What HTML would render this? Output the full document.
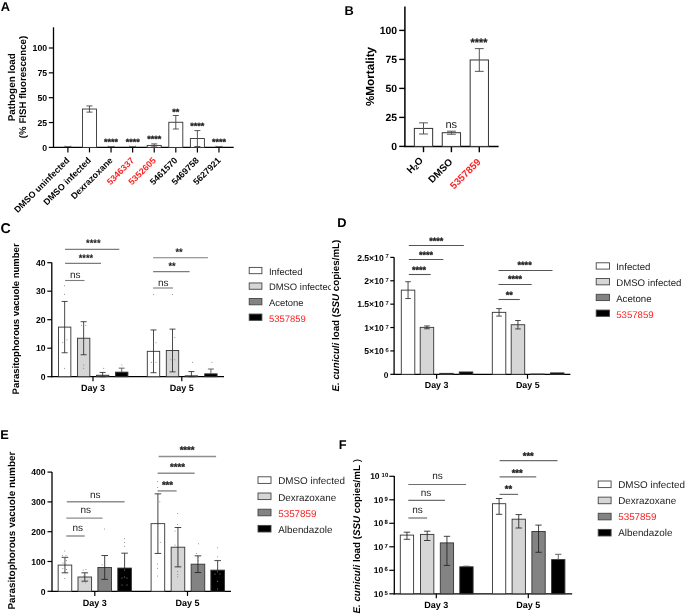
<!DOCTYPE html>
<html><head><meta charset="utf-8"><style>
html,body{margin:0;padding:0;background:#fff;overflow:hidden;}
svg{display:block;font-family:"Liberation Sans", sans-serif;text-rendering:geometricPrecision;will-change:transform;}
</style></head><body>
<svg width="685" height="615" viewBox="0 0 685 615">
<rect width="685" height="615" fill="#fff"/>
<text x="0.80" y="10.80" text-anchor="start" fill="#000" style="font-size:12.8px;font-weight:bold;">A</text>
<line x1="53.50" y1="27.30" x2="53.50" y2="148.00" stroke="#000" stroke-width="1.3" />
<line x1="52.90" y1="147.40" x2="233.70" y2="147.40" stroke="#000" stroke-width="1.3" />
<line x1="48.80" y1="147.40" x2="53.50" y2="147.40" stroke="#000" stroke-width="1.2" />
<text x="47.10" y="150.70" text-anchor="end" fill="#000" style="font-size:8.7px;font-weight:bold;">0</text>
<line x1="48.80" y1="122.55" x2="53.50" y2="122.55" stroke="#000" stroke-width="1.2" />
<text x="47.10" y="125.85" text-anchor="end" fill="#000" style="font-size:8.7px;font-weight:bold;">25</text>
<line x1="48.80" y1="97.70" x2="53.50" y2="97.70" stroke="#000" stroke-width="1.2" />
<text x="47.10" y="101.00" text-anchor="end" fill="#000" style="font-size:8.7px;font-weight:bold;">50</text>
<line x1="48.80" y1="72.85" x2="53.50" y2="72.85" stroke="#000" stroke-width="1.2" />
<text x="47.10" y="76.15" text-anchor="end" fill="#000" style="font-size:8.7px;font-weight:bold;">75</text>
<line x1="48.80" y1="48.00" x2="53.50" y2="48.00" stroke="#000" stroke-width="1.2" />
<text x="47.10" y="51.30" text-anchor="end" fill="#000" style="font-size:8.7px;font-weight:bold;">100</text>
<line x1="67.90" y1="147.40" x2="67.90" y2="152.40" stroke="#000" stroke-width="1.2" />
<line x1="89.48" y1="147.40" x2="89.48" y2="152.40" stroke="#000" stroke-width="1.2" />
<line x1="111.06" y1="147.40" x2="111.06" y2="152.40" stroke="#000" stroke-width="1.2" />
<line x1="132.64" y1="147.40" x2="132.64" y2="152.40" stroke="#000" stroke-width="1.2" />
<line x1="154.22" y1="147.40" x2="154.22" y2="152.40" stroke="#000" stroke-width="1.2" />
<line x1="175.80" y1="147.40" x2="175.80" y2="152.40" stroke="#000" stroke-width="1.2" />
<line x1="197.38" y1="147.40" x2="197.38" y2="152.40" stroke="#000" stroke-width="1.2" />
<line x1="218.96" y1="147.40" x2="218.96" y2="152.40" stroke="#000" stroke-width="1.2" />
<line x1="64.90" y1="146.50" x2="70.90" y2="146.50" stroke="#555" stroke-width="0.8" />
<line x1="64.90" y1="145.60" x2="64.90" y2="147.40" stroke="#555" stroke-width="0.7" />
<line x1="70.90" y1="145.60" x2="70.90" y2="147.40" stroke="#555" stroke-width="0.7" />
<rect x="82.48" y="109.03" width="14.00" height="38.37" fill="#fff" stroke="#333" stroke-width="0.9"/>
<line x1="89.48" y1="105.95" x2="89.48" y2="112.11" stroke="#444" stroke-width="0.9" />
<line x1="86.48" y1="105.95" x2="92.48" y2="105.95" stroke="#444" stroke-width="0.9" />
<line x1="86.48" y1="112.11" x2="92.48" y2="112.11" stroke="#444" stroke-width="0.9" />
<line x1="108.06" y1="146.50" x2="114.06" y2="146.50" stroke="#555" stroke-width="0.8" />
<line x1="108.06" y1="145.60" x2="108.06" y2="147.40" stroke="#555" stroke-width="0.7" />
<line x1="114.06" y1="145.60" x2="114.06" y2="147.40" stroke="#555" stroke-width="0.7" />
<line x1="129.64" y1="146.50" x2="135.64" y2="146.50" stroke="#555" stroke-width="0.8" />
<line x1="129.64" y1="145.60" x2="129.64" y2="147.40" stroke="#555" stroke-width="0.7" />
<line x1="135.64" y1="145.60" x2="135.64" y2="147.40" stroke="#555" stroke-width="0.7" />
<rect x="147.22" y="145.41" width="14.00" height="1.99" fill="#fff" stroke="#333" stroke-width="0.9"/>
<line x1="154.22" y1="143.92" x2="154.22" y2="146.90" stroke="#444" stroke-width="0.9" />
<line x1="151.22" y1="143.92" x2="157.22" y2="143.92" stroke="#444" stroke-width="0.9" />
<line x1="151.22" y1="146.90" x2="157.22" y2="146.90" stroke="#444" stroke-width="0.9" />
<rect x="168.80" y="122.25" width="14.00" height="25.15" fill="#fff" stroke="#333" stroke-width="0.9"/>
<line x1="175.80" y1="115.49" x2="175.80" y2="129.01" stroke="#444" stroke-width="0.9" />
<line x1="172.80" y1="115.49" x2="178.80" y2="115.49" stroke="#444" stroke-width="0.9" />
<line x1="172.80" y1="129.01" x2="178.80" y2="129.01" stroke="#444" stroke-width="0.9" />
<rect x="190.38" y="138.55" width="14.00" height="8.85" fill="#fff" stroke="#333" stroke-width="0.9"/>
<line x1="197.38" y1="130.60" x2="197.38" y2="146.51" stroke="#444" stroke-width="0.9" />
<line x1="194.38" y1="130.60" x2="200.38" y2="130.60" stroke="#444" stroke-width="0.9" />
<line x1="194.38" y1="146.51" x2="200.38" y2="146.51" stroke="#444" stroke-width="0.9" />
<line x1="215.96" y1="146.50" x2="221.96" y2="146.50" stroke="#555" stroke-width="0.8" />
<line x1="215.96" y1="145.60" x2="215.96" y2="147.40" stroke="#555" stroke-width="0.7" />
<line x1="221.96" y1="145.60" x2="221.96" y2="147.40" stroke="#555" stroke-width="0.7" />
<text x="111.06" y="145.40" text-anchor="middle" fill="#222" style="font-size:9.0px;font-weight:bold;stroke:#222;stroke-width:0.3px;">****</text>
<text x="132.64" y="145.40" text-anchor="middle" fill="#222" style="font-size:9.0px;font-weight:bold;stroke:#222;stroke-width:0.3px;">****</text>
<text x="154.22" y="142.30" text-anchor="middle" fill="#222" style="font-size:9.0px;font-weight:bold;stroke:#222;stroke-width:0.3px;">****</text>
<text x="175.80" y="115.00" text-anchor="middle" fill="#222" style="font-size:9.0px;font-weight:bold;stroke:#222;stroke-width:0.3px;">**</text>
<text x="197.38" y="129.20" text-anchor="middle" fill="#222" style="font-size:9.0px;font-weight:bold;stroke:#222;stroke-width:0.3px;">****</text>
<text x="218.96" y="145.40" text-anchor="middle" fill="#222" style="font-size:9.0px;font-weight:bold;stroke:#222;stroke-width:0.3px;">****</text>
<text x="70.10" y="161.00" text-anchor="end" fill="#000" style="font-size:8.9px;font-weight:bold;" transform="rotate(-45 70.10 161.00)">DMSO uninfected</text>
<text x="91.68" y="161.00" text-anchor="end" fill="#000" style="font-size:8.9px;font-weight:bold;" transform="rotate(-45 91.68 161.00)">DMSO infected</text>
<text x="113.26" y="161.00" text-anchor="end" fill="#000" style="font-size:8.9px;font-weight:bold;" transform="rotate(-45 113.26 161.00)">Dexrazoxane</text>
<text x="134.84" y="161.00" text-anchor="end" fill="#fb2222" style="font-size:8.9px;font-weight:bold;" transform="rotate(-45 134.84 161.00)">5346337</text>
<text x="156.42" y="161.00" text-anchor="end" fill="#fb2222" style="font-size:8.9px;font-weight:bold;" transform="rotate(-45 156.42 161.00)">5352605</text>
<text x="178.00" y="161.00" text-anchor="end" fill="#000" style="font-size:8.9px;font-weight:bold;" transform="rotate(-45 178.00 161.00)">5461570</text>
<text x="199.58" y="161.00" text-anchor="end" fill="#000" style="font-size:8.9px;font-weight:bold;" transform="rotate(-45 199.58 161.00)">5469758</text>
<text x="221.16" y="161.00" text-anchor="end" fill="#000" style="font-size:8.9px;font-weight:bold;" transform="rotate(-45 221.16 161.00)">5627921</text>
<text x="14.60" y="87.30" text-anchor="middle" fill="#000" style="font-size:9.9px;font-weight:bold;" transform="rotate(-90 14.60 87.30)">Pathogen load</text>
<text x="26.30" y="87.00" text-anchor="middle" fill="#000" style="font-size:9.7px;font-weight:bold;" transform="rotate(-90 26.30 87.00)">(% FISH fluorescence)</text>
<text x="344.40" y="15.30" text-anchor="start" fill="#000" style="font-size:12.8px;font-weight:bold;">B</text>
<line x1="404.90" y1="6.40" x2="404.90" y2="147.00" stroke="#000" stroke-width="1.5" />
<line x1="404.20" y1="146.40" x2="498.60" y2="146.40" stroke="#000" stroke-width="1.5" />
<line x1="399.20" y1="146.40" x2="404.90" y2="146.40" stroke="#000" stroke-width="1.4" />
<text x="397.00" y="150.30" text-anchor="end" fill="#000" style="font-size:10.4px;font-weight:bold;">0</text>
<line x1="399.20" y1="117.40" x2="404.90" y2="117.40" stroke="#000" stroke-width="1.4" />
<text x="397.00" y="121.30" text-anchor="end" fill="#000" style="font-size:10.4px;font-weight:bold;">25</text>
<line x1="399.20" y1="88.40" x2="404.90" y2="88.40" stroke="#000" stroke-width="1.4" />
<text x="397.00" y="92.30" text-anchor="end" fill="#000" style="font-size:10.4px;font-weight:bold;">50</text>
<line x1="399.20" y1="59.40" x2="404.90" y2="59.40" stroke="#000" stroke-width="1.4" />
<text x="397.00" y="63.30" text-anchor="end" fill="#000" style="font-size:10.4px;font-weight:bold;">75</text>
<line x1="399.20" y1="30.40" x2="404.90" y2="30.40" stroke="#000" stroke-width="1.4" />
<text x="397.00" y="34.30" text-anchor="end" fill="#000" style="font-size:10.4px;font-weight:bold;">100</text>
<line x1="423.50" y1="146.40" x2="423.50" y2="152.20" stroke="#000" stroke-width="1.4" />
<line x1="451.40" y1="146.40" x2="451.40" y2="152.20" stroke="#000" stroke-width="1.4" />
<line x1="479.30" y1="146.40" x2="479.30" y2="152.20" stroke="#000" stroke-width="1.4" />
<rect x="414.35" y="128.42" width="18.30" height="17.98" fill="#fff" stroke="#333" stroke-width="1.0"/>
<line x1="423.50" y1="122.85" x2="423.50" y2="133.99" stroke="#555" stroke-width="1.0" />
<line x1="419.10" y1="122.85" x2="427.90" y2="122.85" stroke="#555" stroke-width="1.0" />
<line x1="419.10" y1="133.99" x2="427.90" y2="133.99" stroke="#555" stroke-width="1.0" />
<rect x="442.25" y="132.71" width="18.30" height="13.69" fill="#fff" stroke="#333" stroke-width="1.0"/>
<line x1="451.40" y1="131.20" x2="451.40" y2="134.22" stroke="#555" stroke-width="1.0" />
<line x1="447.00" y1="131.20" x2="455.80" y2="131.20" stroke="#555" stroke-width="1.0" />
<line x1="447.00" y1="134.22" x2="455.80" y2="134.22" stroke="#555" stroke-width="1.0" />
<rect x="470.15" y="59.98" width="18.30" height="86.42" fill="#fff" stroke="#333" stroke-width="1.0"/>
<line x1="479.30" y1="48.61" x2="479.30" y2="71.35" stroke="#555" stroke-width="1.0" />
<line x1="474.90" y1="48.61" x2="483.70" y2="48.61" stroke="#555" stroke-width="1.0" />
<line x1="474.90" y1="71.35" x2="483.70" y2="71.35" stroke="#555" stroke-width="1.0" />
<text x="451.30" y="127.50" text-anchor="middle" fill="#222" style="font-size:11.0px;font-weight:normal;">ns</text>
<text x="479.00" y="46.20" text-anchor="middle" fill="#222" style="font-size:10.8px;font-weight:bold;stroke:#222;stroke-width:0.3px;">****</text>
<text x="373.80" y="76.50" text-anchor="middle" fill="#000" style="font-size:11.7px;font-weight:bold;" transform="rotate(-90 373.80 76.50)">%Mortality</text>
<text transform="rotate(-45 423.80 161.0)" x="423.80" y="161.0" text-anchor="end" style="font-size:9.9px;font-weight:bold;">H<tspan style="font-size:6.5px" dy="1.5">2</tspan><tspan dy="-1.5">O</tspan></text>
<text x="453.30" y="162.50" text-anchor="end" fill="#000" style="font-size:9.9px;font-weight:bold;" transform="rotate(-45 453.30 162.50)">DMSO</text>
<text x="481.30" y="162.50" text-anchor="end" fill="#fb2222" style="font-size:9.9px;font-weight:bold;" transform="rotate(-45 481.30 162.50)">5357859</text>
<text x="0.40" y="232.60" text-anchor="start" fill="#000" style="font-size:14.2px;font-weight:bold;">C</text>
<line x1="51.80" y1="262.40" x2="51.80" y2="377.30" stroke="#000" stroke-width="1.3" />
<line x1="51.20" y1="376.70" x2="224.00" y2="376.70" stroke="#000" stroke-width="1.3" />
<line x1="47.30" y1="376.70" x2="51.80" y2="376.70" stroke="#000" stroke-width="1.2" />
<text x="45.50" y="379.90" text-anchor="end" fill="#000" style="font-size:8.6px;font-weight:bold;">0</text>
<line x1="47.30" y1="348.20" x2="51.80" y2="348.20" stroke="#000" stroke-width="1.2" />
<text x="45.50" y="351.40" text-anchor="end" fill="#000" style="font-size:8.6px;font-weight:bold;">10</text>
<line x1="47.30" y1="319.70" x2="51.80" y2="319.70" stroke="#000" stroke-width="1.2" />
<text x="45.50" y="322.90" text-anchor="end" fill="#000" style="font-size:8.6px;font-weight:bold;">20</text>
<line x1="47.30" y1="291.20" x2="51.80" y2="291.20" stroke="#000" stroke-width="1.2" />
<text x="45.50" y="294.40" text-anchor="end" fill="#000" style="font-size:8.6px;font-weight:bold;">30</text>
<line x1="47.30" y1="262.70" x2="51.80" y2="262.70" stroke="#000" stroke-width="1.2" />
<text x="45.50" y="265.90" text-anchor="end" fill="#000" style="font-size:8.6px;font-weight:bold;">40</text>
<line x1="93.00" y1="376.70" x2="93.00" y2="381.20" stroke="#000" stroke-width="1.2" />
<line x1="181.80" y1="376.70" x2="181.80" y2="381.20" stroke="#000" stroke-width="1.2" />
<text x="93.00" y="390.50" text-anchor="middle" fill="#000" style="font-size:9.0px;font-weight:bold;">Day 3</text>
<text x="181.80" y="390.50" text-anchor="middle" fill="#000" style="font-size:9.0px;font-weight:bold;">Day 5</text>
<rect x="58.45" y="327.11" width="12.40" height="49.59" fill="#fff" stroke="#333" stroke-width="0.9"/>
<line x1="64.65" y1="301.46" x2="64.65" y2="352.76" stroke="#2a2a2a" stroke-width="0.85" />
<line x1="61.65" y1="301.46" x2="67.65" y2="301.46" stroke="#2a2a2a" stroke-width="0.85" />
<line x1="61.65" y1="352.76" x2="67.65" y2="352.76" stroke="#2a2a2a" stroke-width="0.85" />
<rect x="77.45" y="338.22" width="12.40" height="38.48" fill="#d6d6d6" stroke="#333" stroke-width="0.9"/>
<line x1="83.65" y1="321.69" x2="83.65" y2="354.75" stroke="#2a2a2a" stroke-width="0.85" />
<line x1="80.65" y1="321.69" x2="86.65" y2="321.69" stroke="#2a2a2a" stroke-width="0.85" />
<line x1="80.65" y1="354.75" x2="86.65" y2="354.75" stroke="#2a2a2a" stroke-width="0.85" />
<rect x="96.45" y="375.27" width="12.40" height="1.43" fill="#838383" stroke="#333" stroke-width="0.9"/>
<line x1="102.65" y1="372.43" x2="102.65" y2="376.70" stroke="#2a2a2a" stroke-width="0.85" />
<line x1="99.65" y1="372.43" x2="105.65" y2="372.43" stroke="#2a2a2a" stroke-width="0.85" />
<line x1="99.65" y1="376.70" x2="105.65" y2="376.70" stroke="#2a2a2a" stroke-width="0.85" />
<rect x="115.50" y="372.14" width="12.40" height="4.56" fill="#000" stroke="#333" stroke-width="0.9"/>
<line x1="121.70" y1="368.15" x2="121.70" y2="372.14" stroke="#555" stroke-width="0.9" />
<line x1="118.70" y1="368.15" x2="124.70" y2="368.15" stroke="#555" stroke-width="0.9" />
<rect x="147.30" y="351.33" width="12.40" height="25.37" fill="#fff" stroke="#333" stroke-width="0.9"/>
<line x1="153.50" y1="329.96" x2="153.50" y2="372.71" stroke="#2a2a2a" stroke-width="0.85" />
<line x1="150.50" y1="329.96" x2="156.50" y2="329.96" stroke="#2a2a2a" stroke-width="0.85" />
<line x1="150.50" y1="372.71" x2="156.50" y2="372.71" stroke="#2a2a2a" stroke-width="0.85" />
<rect x="166.30" y="350.48" width="12.40" height="26.22" fill="#d6d6d6" stroke="#333" stroke-width="0.9"/>
<line x1="172.50" y1="329.11" x2="172.50" y2="371.86" stroke="#2a2a2a" stroke-width="0.85" />
<line x1="169.50" y1="329.11" x2="175.50" y2="329.11" stroke="#2a2a2a" stroke-width="0.85" />
<line x1="169.50" y1="371.86" x2="175.50" y2="371.86" stroke="#2a2a2a" stroke-width="0.85" />
<rect x="185.20" y="375.84" width="12.40" height="0.86" fill="#838383" stroke="#333" stroke-width="0.9"/>
<line x1="191.40" y1="371.57" x2="191.40" y2="376.70" stroke="#2a2a2a" stroke-width="0.85" />
<line x1="188.40" y1="371.57" x2="194.40" y2="371.57" stroke="#2a2a2a" stroke-width="0.85" />
<line x1="188.40" y1="376.70" x2="194.40" y2="376.70" stroke="#2a2a2a" stroke-width="0.85" />
<rect x="204.70" y="373.85" width="12.40" height="2.85" fill="#000" stroke="#333" stroke-width="0.9"/>
<line x1="210.90" y1="369.00" x2="210.90" y2="373.85" stroke="#555" stroke-width="0.9" />
<line x1="207.90" y1="369.00" x2="213.90" y2="369.00" stroke="#555" stroke-width="0.9" />
<line x1="65.10" y1="280.50" x2="84.50" y2="280.50" stroke="#7c7c7c" stroke-width="1.1" />
<text x="75.20" y="277.90" text-anchor="middle" fill="#222" style="font-size:10.0px;font-weight:normal;">ns</text>
<line x1="65.10" y1="263.40" x2="101.00" y2="263.40" stroke="#7c7c7c" stroke-width="1.1" />
<text x="86.00" y="260.50" text-anchor="middle" fill="#222" style="font-size:9.3px;font-weight:bold;stroke:#222;stroke-width:0.1px;">****</text>
<line x1="65.10" y1="249.40" x2="119.30" y2="249.40" stroke="#7c7c7c" stroke-width="1.1" />
<text x="93.30" y="245.50" text-anchor="middle" fill="#222" style="font-size:9.3px;font-weight:bold;stroke:#222;stroke-width:0.1px;">****</text>
<line x1="153.10" y1="288.00" x2="173.00" y2="288.00" stroke="#7c7c7c" stroke-width="1.1" />
<text x="163.30" y="285.50" text-anchor="middle" fill="#222" style="font-size:10.0px;font-weight:normal;">ns</text>
<line x1="153.10" y1="271.60" x2="189.60" y2="271.60" stroke="#7c7c7c" stroke-width="1.1" />
<text x="172.10" y="268.90" text-anchor="middle" fill="#222" style="font-size:9.3px;font-weight:bold;stroke:#222;stroke-width:0.1px;">**</text>
<line x1="153.10" y1="257.70" x2="207.90" y2="257.70" stroke="#7c7c7c" stroke-width="1.1" />
<text x="179.10" y="254.60" text-anchor="middle" fill="#222" style="font-size:9.3px;font-weight:bold;stroke:#222;stroke-width:0.1px;">**</text>
<text x="19.20" y="318.90" text-anchor="middle" fill="#000" style="font-size:9.5px;font-weight:bold;" transform="rotate(-90 19.20 318.90)">Parasitophorous vacuole number</text>
<rect x="249.20" y="267.40" width="12.70" height="6.30" fill="#fff" stroke="#444" stroke-width="0.9"/>
<text x="268.90" y="274.90" text-anchor="start" fill="#222" style="font-size:9.45px;font-weight:normal;">Infected</text>
<rect x="249.20" y="282.95" width="12.70" height="6.30" fill="#d6d6d6" stroke="#444" stroke-width="0.9"/>
<text x="268.90" y="290.45" text-anchor="start" fill="#222" style="font-size:9.45px;font-weight:normal;">DMSO infected</text>
<rect x="249.20" y="298.50" width="12.70" height="6.30" fill="#838383" stroke="#444" stroke-width="0.9"/>
<text x="268.90" y="306.00" text-anchor="start" fill="#222" style="font-size:9.45px;font-weight:normal;">Acetone</text>
<rect x="249.20" y="314.05" width="12.70" height="6.30" fill="#000" stroke="#444" stroke-width="0.9"/>
<text x="268.90" y="321.55" text-anchor="start" fill="#fb2222" style="font-size:9.45px;font-weight:normal;">5357859</text>
<rect x="331" y="205" width="360" height="195" fill="#fff"/>
<text x="337.30" y="226.60" text-anchor="start" fill="#000" style="font-size:12.8px;font-weight:bold;">D</text>
<line x1="394.10" y1="257.30" x2="394.10" y2="374.90" stroke="#000" stroke-width="1.3" />
<line x1="393.50" y1="374.30" x2="570.40" y2="374.30" stroke="#000" stroke-width="1.3" />
<line x1="390.30" y1="374.30" x2="394.10" y2="374.30" stroke="#000" stroke-width="1.2" />
<text x="388.30" y="377.50" text-anchor="end" fill="#000" style="font-size:8.4px;font-weight:bold;">0</text>
<line x1="390.30" y1="350.92" x2="394.10" y2="350.92" stroke="#000" stroke-width="1.2" />
<text x="383.70" y="354.12" text-anchor="end" fill="#000" style="font-size:8.6px;font-weight:bold;">5×10</text>
<text x="385.60" y="351.92" text-anchor="start" fill="#000" style="font-size:5.7px;font-weight:normal;stroke:#000;stroke-width:0.15px;">6</text>
<line x1="390.30" y1="327.54" x2="394.10" y2="327.54" stroke="#000" stroke-width="1.2" />
<text x="383.70" y="330.74" text-anchor="end" fill="#000" style="font-size:8.6px;font-weight:bold;">1×10</text>
<text x="385.60" y="328.54" text-anchor="start" fill="#000" style="font-size:5.7px;font-weight:normal;stroke:#000;stroke-width:0.15px;">7</text>
<line x1="390.30" y1="304.16" x2="394.10" y2="304.16" stroke="#000" stroke-width="1.2" />
<text x="383.70" y="307.36" text-anchor="end" fill="#000" style="font-size:8.6px;font-weight:bold;">1.5×10</text>
<text x="385.60" y="305.16" text-anchor="start" fill="#000" style="font-size:5.7px;font-weight:normal;stroke:#000;stroke-width:0.15px;">7</text>
<line x1="390.30" y1="280.78" x2="394.10" y2="280.78" stroke="#000" stroke-width="1.2" />
<text x="383.70" y="283.98" text-anchor="end" fill="#000" style="font-size:8.6px;font-weight:bold;">2×10</text>
<text x="385.60" y="281.78" text-anchor="start" fill="#000" style="font-size:5.7px;font-weight:normal;stroke:#000;stroke-width:0.15px;">7</text>
<line x1="390.30" y1="257.40" x2="394.10" y2="257.40" stroke="#000" stroke-width="1.2" />
<text x="383.70" y="260.60" text-anchor="end" fill="#000" style="font-size:8.6px;font-weight:bold;">2.5×10</text>
<text x="385.60" y="258.40" text-anchor="start" fill="#000" style="font-size:5.7px;font-weight:normal;stroke:#000;stroke-width:0.15px;">7</text>
<line x1="436.60" y1="374.30" x2="436.60" y2="378.80" stroke="#000" stroke-width="1.2" />
<line x1="527.50" y1="374.30" x2="527.50" y2="378.80" stroke="#000" stroke-width="1.2" />
<text x="436.60" y="387.60" text-anchor="middle" fill="#000" style="font-size:8.9px;font-weight:bold;">Day 3</text>
<text x="527.80" y="387.60" text-anchor="middle" fill="#000" style="font-size:8.9px;font-weight:bold;">Day 5</text>
<rect x="401.30" y="290.13" width="13.50" height="84.17" fill="#fff" stroke="#333" stroke-width="0.9"/>
<line x1="408.05" y1="281.72" x2="408.05" y2="298.55" stroke="#2a2a2a" stroke-width="0.85" />
<line x1="405.25" y1="281.72" x2="410.85" y2="281.72" stroke="#2a2a2a" stroke-width="0.85" />
<line x1="405.25" y1="298.55" x2="410.85" y2="298.55" stroke="#2a2a2a" stroke-width="0.85" />
<rect x="420.20" y="327.35" width="13.50" height="46.95" fill="#d6d6d6" stroke="#333" stroke-width="0.9"/>
<line x1="426.95" y1="325.95" x2="426.95" y2="328.76" stroke="#2a2a2a" stroke-width="0.85" />
<line x1="424.15" y1="325.95" x2="429.75" y2="325.95" stroke="#2a2a2a" stroke-width="0.85" />
<line x1="424.15" y1="328.76" x2="429.75" y2="328.76" stroke="#2a2a2a" stroke-width="0.85" />
<rect x="439.75" y="373.36" width="13.50" height="0.94" fill="#838383" stroke="#333" stroke-width="0.9"/>
<rect x="459.30" y="371.96" width="13.50" height="2.34" fill="#000" stroke="#333" stroke-width="0.9"/>
<rect x="492.30" y="312.34" width="13.50" height="61.96" fill="#fff" stroke="#333" stroke-width="0.9"/>
<line x1="499.05" y1="308.60" x2="499.05" y2="316.08" stroke="#2a2a2a" stroke-width="0.85" />
<line x1="496.25" y1="308.60" x2="501.85" y2="308.60" stroke="#2a2a2a" stroke-width="0.85" />
<line x1="496.25" y1="316.08" x2="501.85" y2="316.08" stroke="#2a2a2a" stroke-width="0.85" />
<rect x="511.20" y="324.73" width="13.50" height="49.57" fill="#d6d6d6" stroke="#333" stroke-width="0.9"/>
<line x1="517.95" y1="320.53" x2="517.95" y2="328.94" stroke="#2a2a2a" stroke-width="0.85" />
<line x1="515.15" y1="320.53" x2="520.75" y2="320.53" stroke="#2a2a2a" stroke-width="0.85" />
<line x1="515.15" y1="328.94" x2="520.75" y2="328.94" stroke="#2a2a2a" stroke-width="0.85" />
<rect x="530.75" y="374.07" width="13.50" height="0.23" fill="#838383" stroke="#333" stroke-width="0.9"/>
<rect x="550.45" y="372.90" width="13.50" height="1.40" fill="#000" stroke="#333" stroke-width="0.9"/>
<line x1="408.80" y1="274.50" x2="430.70" y2="274.50" stroke="#555" stroke-width="1.1" />
<text x="419.00" y="273.00" text-anchor="middle" fill="#222" style="font-size:9.1px;font-weight:bold;stroke:#222;stroke-width:0.3px;">****</text>
<line x1="408.80" y1="259.50" x2="443.30" y2="259.50" stroke="#555" stroke-width="1.1" />
<text x="426.00" y="258.10" text-anchor="middle" fill="#222" style="font-size:9.1px;font-weight:bold;stroke:#222;stroke-width:0.3px;">****</text>
<line x1="408.80" y1="245.50" x2="463.80" y2="245.50" stroke="#555" stroke-width="1.1" />
<text x="436.30" y="243.60" text-anchor="middle" fill="#222" style="font-size:9.1px;font-weight:bold;stroke:#222;stroke-width:0.3px;">****</text>
<line x1="498.50" y1="299.50" x2="519.80" y2="299.50" stroke="#555" stroke-width="1.1" />
<text x="509.30" y="298.20" text-anchor="middle" fill="#222" style="font-size:9.1px;font-weight:bold;stroke:#222;stroke-width:0.3px;">**</text>
<line x1="498.50" y1="284.50" x2="531.70" y2="284.50" stroke="#555" stroke-width="1.1" />
<text x="515.00" y="282.10" text-anchor="middle" fill="#222" style="font-size:9.1px;font-weight:bold;stroke:#222;stroke-width:0.3px;">****</text>
<line x1="498.50" y1="270.50" x2="552.50" y2="270.50" stroke="#555" stroke-width="1.1" />
<text x="524.60" y="268.40" text-anchor="middle" fill="#222" style="font-size:9.1px;font-weight:bold;stroke:#222;stroke-width:0.3px;">****</text>
<text transform="rotate(-90 339.5 315.6)" x="339.5" y="315.6" text-anchor="middle" style="font-size:9.75px;font-weight:bold;"><tspan font-style="italic">E. cuniculi</tspan> load (<tspan font-style="italic">SSU</tspan> copies/mL)</text>
<rect x="596.20" y="262.80" width="13.30" height="6.30" fill="#fff" stroke="#444" stroke-width="0.9"/>
<text x="616.20" y="270.30" text-anchor="start" fill="#222" style="font-size:9.65px;font-weight:normal;">Infected</text>
<rect x="596.20" y="278.55" width="13.30" height="6.30" fill="#d6d6d6" stroke="#444" stroke-width="0.9"/>
<text x="616.20" y="286.05" text-anchor="start" fill="#222" style="font-size:9.65px;font-weight:normal;">DMSO infected</text>
<rect x="596.20" y="294.30" width="13.30" height="6.30" fill="#838383" stroke="#444" stroke-width="0.9"/>
<text x="616.20" y="301.80" text-anchor="start" fill="#222" style="font-size:9.65px;font-weight:normal;">Acetone</text>
<rect x="596.20" y="310.05" width="13.30" height="6.30" fill="#000" stroke="#444" stroke-width="0.9"/>
<text x="616.20" y="317.55" text-anchor="start" fill="#fb2222" style="font-size:9.65px;font-weight:normal;">5357859</text>
<text x="0.30" y="438.80" text-anchor="start" fill="#000" style="font-size:12.8px;font-weight:bold;">E</text>
<line x1="52.00" y1="472.00" x2="52.00" y2="591.90" stroke="#000" stroke-width="1.3" />
<line x1="51.40" y1="591.30" x2="231.00" y2="591.30" stroke="#000" stroke-width="1.3" />
<line x1="47.50" y1="591.30" x2="52.00" y2="591.30" stroke="#000" stroke-width="1.2" />
<text x="45.50" y="594.50" text-anchor="end" fill="#000" style="font-size:8.6px;font-weight:bold;">0</text>
<line x1="47.50" y1="561.50" x2="52.00" y2="561.50" stroke="#000" stroke-width="1.2" />
<text x="45.50" y="564.70" text-anchor="end" fill="#000" style="font-size:8.6px;font-weight:bold;">100</text>
<line x1="47.50" y1="531.70" x2="52.00" y2="531.70" stroke="#000" stroke-width="1.2" />
<text x="45.50" y="534.90" text-anchor="end" fill="#000" style="font-size:8.6px;font-weight:bold;">200</text>
<line x1="47.50" y1="501.90" x2="52.00" y2="501.90" stroke="#000" stroke-width="1.2" />
<text x="45.50" y="505.10" text-anchor="end" fill="#000" style="font-size:8.6px;font-weight:bold;">300</text>
<line x1="47.50" y1="472.10" x2="52.00" y2="472.10" stroke="#000" stroke-width="1.2" />
<text x="45.50" y="475.30" text-anchor="end" fill="#000" style="font-size:8.6px;font-weight:bold;">400</text>
<line x1="94.80" y1="591.30" x2="94.80" y2="595.90" stroke="#000" stroke-width="1.2" />
<line x1="187.50" y1="591.30" x2="187.50" y2="595.90" stroke="#000" stroke-width="1.2" />
<text x="94.80" y="605.90" text-anchor="middle" fill="#000" style="font-size:9.0px;font-weight:bold;">Day 3</text>
<text x="187.50" y="605.90" text-anchor="middle" fill="#000" style="font-size:9.0px;font-weight:bold;">Day 5</text>
<rect x="58.15" y="565.08" width="13.60" height="26.22" fill="#fff" stroke="#333" stroke-width="0.9"/>
<line x1="64.95" y1="557.33" x2="64.95" y2="572.82" stroke="#222" stroke-width="0.85" />
<line x1="61.65" y1="557.33" x2="68.25" y2="557.33" stroke="#222" stroke-width="0.85" />
<line x1="61.65" y1="572.82" x2="68.25" y2="572.82" stroke="#222" stroke-width="0.85" />
<rect x="78.00" y="577.00" width="13.60" height="14.30" fill="#d6d6d6" stroke="#333" stroke-width="0.9"/>
<line x1="84.80" y1="572.82" x2="84.80" y2="581.17" stroke="#222" stroke-width="0.85" />
<line x1="81.50" y1="572.82" x2="88.10" y2="572.82" stroke="#222" stroke-width="0.85" />
<line x1="81.50" y1="581.17" x2="88.10" y2="581.17" stroke="#222" stroke-width="0.85" />
<rect x="97.90" y="567.46" width="13.60" height="23.84" fill="#838383" stroke="#333" stroke-width="0.9"/>
<line x1="104.70" y1="555.54" x2="104.70" y2="579.38" stroke="#222" stroke-width="0.85" />
<line x1="101.40" y1="555.54" x2="108.00" y2="555.54" stroke="#222" stroke-width="0.85" />
<line x1="101.40" y1="579.38" x2="108.00" y2="579.38" stroke="#222" stroke-width="0.85" />
<rect x="117.80" y="568.06" width="13.60" height="23.24" fill="#000" stroke="#333" stroke-width="0.9"/>
<line x1="124.60" y1="553.16" x2="124.60" y2="568.06" stroke="#333" stroke-width="0.9" />
<line x1="121.30" y1="553.16" x2="127.90" y2="553.16" stroke="#333" stroke-width="0.9" />
<rect x="151.10" y="523.65" width="13.60" height="67.65" fill="#fff" stroke="#333" stroke-width="0.9"/>
<line x1="157.90" y1="493.85" x2="157.90" y2="553.45" stroke="#222" stroke-width="0.85" />
<line x1="154.60" y1="493.85" x2="161.20" y2="493.85" stroke="#222" stroke-width="0.85" />
<line x1="154.60" y1="553.45" x2="161.20" y2="553.45" stroke="#222" stroke-width="0.85" />
<rect x="171.15" y="547.20" width="13.60" height="44.10" fill="#d6d6d6" stroke="#333" stroke-width="0.9"/>
<line x1="177.95" y1="527.53" x2="177.95" y2="566.86" stroke="#222" stroke-width="0.85" />
<line x1="174.65" y1="527.53" x2="181.25" y2="527.53" stroke="#222" stroke-width="0.85" />
<line x1="174.65" y1="566.86" x2="181.25" y2="566.86" stroke="#222" stroke-width="0.85" />
<rect x="191.15" y="564.18" width="13.60" height="27.12" fill="#838383" stroke="#333" stroke-width="0.9"/>
<line x1="197.95" y1="555.84" x2="197.95" y2="572.53" stroke="#222" stroke-width="0.85" />
<line x1="194.65" y1="555.84" x2="201.25" y2="555.84" stroke="#222" stroke-width="0.85" />
<line x1="194.65" y1="572.53" x2="201.25" y2="572.53" stroke="#222" stroke-width="0.85" />
<rect x="210.85" y="570.14" width="13.60" height="21.16" fill="#000" stroke="#333" stroke-width="0.9"/>
<line x1="217.65" y1="560.61" x2="217.65" y2="570.14" stroke="#333" stroke-width="0.9" />
<line x1="214.35" y1="560.61" x2="220.95" y2="560.61" stroke="#333" stroke-width="0.9" />
<line x1="66.30" y1="536.00" x2="84.70" y2="536.00" stroke="#8e8e8e" stroke-width="1.45" />
<text x="77.80" y="530.80" text-anchor="middle" fill="#222" style="font-size:10.0px;font-weight:normal;">ns</text>
<line x1="66.30" y1="518.10" x2="102.60" y2="518.10" stroke="#8e8e8e" stroke-width="1.45" />
<text x="85.80" y="513.30" text-anchor="middle" fill="#222" style="font-size:10.0px;font-weight:normal;">ns</text>
<line x1="66.80" y1="501.80" x2="124.60" y2="501.80" stroke="#8e8e8e" stroke-width="1.45" />
<text x="95.20" y="497.50" text-anchor="middle" fill="#222" style="font-size:10.0px;font-weight:normal;">ns</text>
<line x1="157.60" y1="490.90" x2="176.60" y2="490.90" stroke="#8e8e8e" stroke-width="1.45" />
<text x="167.50" y="488.20" text-anchor="middle" fill="#222" style="font-size:9.6px;font-weight:bold;stroke:#222;stroke-width:0.35px;">***</text>
<line x1="157.60" y1="473.20" x2="194.60" y2="473.20" stroke="#8e8e8e" stroke-width="1.45" />
<text x="177.50" y="469.70" text-anchor="middle" fill="#222" style="font-size:9.6px;font-weight:bold;stroke:#222;stroke-width:0.35px;">****</text>
<line x1="158.60" y1="456.50" x2="216.10" y2="456.50" stroke="#8e8e8e" stroke-width="1.45" />
<text x="187.10" y="453.30" text-anchor="middle" fill="#222" style="font-size:9.6px;font-weight:bold;stroke:#222;stroke-width:0.35px;">****</text>
<text x="14.70" y="530.60" text-anchor="middle" fill="#000" style="font-size:9.95px;font-weight:bold;" transform="rotate(-90 14.70 530.60)">Parasitophorous vacuole number</text>
<rect x="258.00" y="476.80" width="13.00" height="6.60" fill="#fff" stroke="#444" stroke-width="0.9"/>
<text x="278.20" y="484.40" text-anchor="start" fill="#222" style="font-size:9.85px;font-weight:normal;">DMSO infected</text>
<rect x="258.00" y="493.00" width="13.00" height="6.60" fill="#d6d6d6" stroke="#444" stroke-width="0.9"/>
<text x="278.20" y="500.60" text-anchor="start" fill="#222" style="font-size:9.85px;font-weight:normal;">Dexrazoxane</text>
<rect x="258.00" y="509.20" width="13.00" height="6.60" fill="#838383" stroke="#444" stroke-width="0.9"/>
<text x="278.20" y="516.80" text-anchor="start" fill="#fb2222" style="font-size:9.85px;font-weight:normal;">5357859</text>
<rect x="258.00" y="525.40" width="13.00" height="6.60" fill="#000" stroke="#444" stroke-width="0.9"/>
<text x="278.20" y="533.00" text-anchor="start" fill="#222" style="font-size:9.85px;font-weight:normal;">Albendazole</text>
<text x="338.70" y="449.30" text-anchor="start" fill="#000" style="font-size:12.8px;font-weight:bold;">F</text>
<line x1="394.30" y1="476.00" x2="394.30" y2="594.40" stroke="#000" stroke-width="1.3" />
<line x1="393.70" y1="593.80" x2="572.20" y2="593.80" stroke="#000" stroke-width="1.3" />
<line x1="389.30" y1="593.80" x2="394.30" y2="593.80" stroke="#000" stroke-width="1.2" />
<text x="383.20" y="596.90" text-anchor="end" fill="#000" style="font-size:8.5px;font-weight:bold;">10</text>
<text x="384.60" y="594.60" text-anchor="start" fill="#000" style="font-size:6.0px;font-weight:bold;">5</text>
<line x1="389.30" y1="570.30" x2="394.30" y2="570.30" stroke="#000" stroke-width="1.2" />
<text x="383.20" y="573.40" text-anchor="end" fill="#000" style="font-size:8.5px;font-weight:bold;">10</text>
<text x="384.60" y="571.10" text-anchor="start" fill="#000" style="font-size:6.0px;font-weight:bold;">6</text>
<line x1="389.30" y1="546.80" x2="394.30" y2="546.80" stroke="#000" stroke-width="1.2" />
<text x="383.20" y="549.90" text-anchor="end" fill="#000" style="font-size:8.5px;font-weight:bold;">10</text>
<text x="384.60" y="547.60" text-anchor="start" fill="#000" style="font-size:6.0px;font-weight:bold;">7</text>
<line x1="389.30" y1="523.30" x2="394.30" y2="523.30" stroke="#000" stroke-width="1.2" />
<text x="383.20" y="526.40" text-anchor="end" fill="#000" style="font-size:8.5px;font-weight:bold;">10</text>
<text x="384.60" y="524.10" text-anchor="start" fill="#000" style="font-size:6.0px;font-weight:bold;">8</text>
<line x1="389.30" y1="499.80" x2="394.30" y2="499.80" stroke="#000" stroke-width="1.2" />
<text x="383.20" y="502.90" text-anchor="end" fill="#000" style="font-size:8.5px;font-weight:bold;">10</text>
<text x="384.60" y="500.60" text-anchor="start" fill="#000" style="font-size:6.0px;font-weight:bold;">9</text>
<line x1="389.30" y1="476.30" x2="394.30" y2="476.30" stroke="#000" stroke-width="1.2" />
<text x="379.60" y="479.40" text-anchor="end" fill="#000" style="font-size:8.5px;font-weight:bold;">10</text>
<text x="381.60" y="477.10" text-anchor="start" fill="#000" style="font-size:6.0px;font-weight:bold;">10</text>
<line x1="436.30" y1="593.80" x2="436.30" y2="598.30" stroke="#000" stroke-width="1.2" />
<line x1="528.30" y1="593.80" x2="528.30" y2="598.30" stroke="#000" stroke-width="1.2" />
<text x="436.30" y="608.30" text-anchor="middle" fill="#000" style="font-size:9.0px;font-weight:bold;">Day 3</text>
<text x="528.30" y="608.30" text-anchor="middle" fill="#000" style="font-size:9.0px;font-weight:bold;">Day 5</text>
<rect x="400.30" y="535.10" width="13.30" height="58.70" fill="#fff" stroke="#333" stroke-width="0.9"/>
<line x1="406.95" y1="532.20" x2="406.95" y2="539.30" stroke="#222" stroke-width="0.85" />
<line x1="403.75" y1="532.20" x2="410.15" y2="532.20" stroke="#222" stroke-width="0.85" />
<line x1="403.75" y1="539.30" x2="410.15" y2="539.30" stroke="#222" stroke-width="0.85" />
<rect x="420.55" y="534.40" width="13.30" height="59.40" fill="#d6d6d6" stroke="#333" stroke-width="0.9"/>
<line x1="427.20" y1="531.20" x2="427.20" y2="540.50" stroke="#222" stroke-width="0.85" />
<line x1="424.00" y1="531.20" x2="430.40" y2="531.20" stroke="#222" stroke-width="0.85" />
<line x1="424.00" y1="540.50" x2="430.40" y2="540.50" stroke="#222" stroke-width="0.85" />
<rect x="440.30" y="542.90" width="13.30" height="50.90" fill="#838383" stroke="#333" stroke-width="0.9"/>
<line x1="446.95" y1="536.30" x2="446.95" y2="565.40" stroke="#222" stroke-width="0.85" />
<line x1="443.75" y1="536.30" x2="450.15" y2="536.30" stroke="#222" stroke-width="0.85" />
<line x1="443.75" y1="565.40" x2="450.15" y2="565.40" stroke="#222" stroke-width="0.85" />
<rect x="459.80" y="566.80" width="13.30" height="27.00" fill="#000" stroke="#333" stroke-width="0.9"/>
<line x1="466.45" y1="566.20" x2="466.45" y2="566.80" stroke="#555" stroke-width="0.9" />
<line x1="463.25" y1="566.20" x2="469.65" y2="566.20" stroke="#555" stroke-width="0.9" />
<rect x="492.45" y="503.70" width="13.30" height="90.10" fill="#fff" stroke="#333" stroke-width="0.9"/>
<line x1="499.10" y1="498.50" x2="499.10" y2="514.30" stroke="#222" stroke-width="0.85" />
<line x1="495.90" y1="498.50" x2="502.30" y2="498.50" stroke="#222" stroke-width="0.85" />
<line x1="495.90" y1="514.30" x2="502.30" y2="514.30" stroke="#222" stroke-width="0.85" />
<rect x="512.10" y="519.20" width="13.30" height="74.60" fill="#d6d6d6" stroke="#333" stroke-width="0.9"/>
<line x1="518.75" y1="514.60" x2="518.75" y2="528.00" stroke="#222" stroke-width="0.85" />
<line x1="515.55" y1="514.60" x2="521.95" y2="514.60" stroke="#222" stroke-width="0.85" />
<line x1="515.55" y1="528.00" x2="521.95" y2="528.00" stroke="#222" stroke-width="0.85" />
<rect x="531.90" y="531.50" width="13.30" height="62.30" fill="#838383" stroke="#333" stroke-width="0.9"/>
<line x1="538.55" y1="525.10" x2="538.55" y2="552.30" stroke="#222" stroke-width="0.85" />
<line x1="535.35" y1="525.10" x2="541.75" y2="525.10" stroke="#222" stroke-width="0.85" />
<line x1="535.35" y1="552.30" x2="541.75" y2="552.30" stroke="#222" stroke-width="0.85" />
<rect x="551.60" y="559.60" width="13.30" height="34.20" fill="#000" stroke="#333" stroke-width="0.9"/>
<line x1="558.25" y1="554.30" x2="558.25" y2="559.60" stroke="#555" stroke-width="0.9" />
<line x1="555.05" y1="554.30" x2="561.45" y2="554.30" stroke="#555" stroke-width="0.9" />
<line x1="408.30" y1="518.00" x2="427.10" y2="518.00" stroke="#6e6e6e" stroke-width="1.2" />
<text x="417.60" y="513.30" text-anchor="middle" fill="#222" style="font-size:10.0px;font-weight:normal;">ns</text>
<line x1="408.30" y1="500.30" x2="444.90" y2="500.30" stroke="#6e6e6e" stroke-width="1.2" />
<text x="426.10" y="495.50" text-anchor="middle" fill="#222" style="font-size:10.0px;font-weight:normal;">ns</text>
<line x1="408.30" y1="484.50" x2="466.10" y2="484.50" stroke="#6e6e6e" stroke-width="1.2" />
<text x="437.60" y="479.20" text-anchor="middle" fill="#222" style="font-size:10.0px;font-weight:normal;">ns</text>
<line x1="499.60" y1="494.40" x2="518.00" y2="494.40" stroke="#6e6e6e" stroke-width="1.2" />
<text x="508.40" y="492.00" text-anchor="middle" fill="#222" style="font-size:9.4px;font-weight:bold;stroke:#222;stroke-width:0.35px;">**</text>
<line x1="499.60" y1="476.80" x2="536.20" y2="476.80" stroke="#6e6e6e" stroke-width="1.2" />
<text x="517.20" y="475.90" text-anchor="middle" fill="#222" style="font-size:9.4px;font-weight:bold;stroke:#222;stroke-width:0.35px;">***</text>
<line x1="499.60" y1="460.70" x2="557.50" y2="460.70" stroke="#6e6e6e" stroke-width="1.2" />
<text x="528.30" y="458.70" text-anchor="middle" fill="#222" style="font-size:9.4px;font-weight:bold;stroke:#222;stroke-width:0.35px;">***</text>
<text transform="rotate(-90 359.8 536.3)" x="359.8" y="536.3" text-anchor="middle" style="font-size:9.75px;font-weight:bold;"><tspan font-style="italic">E. cuniculi</tspan> load (<tspan font-style="italic">SSU</tspan> copies/mL<tspan font-weight="normal"> )</tspan></text>
<rect x="598.20" y="481.00" width="12.90" height="6.60" fill="#fff" stroke="#444" stroke-width="0.9"/>
<text x="618.20" y="488.00" text-anchor="start" fill="#222" style="font-size:9.85px;font-weight:normal;">DMSO infected</text>
<rect x="598.20" y="497.13" width="12.90" height="6.60" fill="#d6d6d6" stroke="#444" stroke-width="0.9"/>
<text x="618.20" y="504.13" text-anchor="start" fill="#222" style="font-size:9.85px;font-weight:normal;">Dexrazoxane</text>
<rect x="598.20" y="513.26" width="12.90" height="6.60" fill="#838383" stroke="#444" stroke-width="0.9"/>
<text x="618.20" y="520.26" text-anchor="start" fill="#fb2222" style="font-size:9.85px;font-weight:normal;">5357859</text>
<rect x="598.20" y="529.39" width="12.90" height="6.60" fill="#000" stroke="#444" stroke-width="0.9"/>
<text x="618.20" y="536.39" text-anchor="start" fill="#222" style="font-size:9.85px;font-weight:normal;">Albendazole</text>
<circle cx="64.50" cy="285.70" r="0.5" fill="#777"/>
<circle cx="64.50" cy="294.30" r="0.5" fill="#777"/>
<circle cx="62.60" cy="342.30" r="0.5" fill="#777"/>
<circle cx="67.00" cy="339.80" r="0.5" fill="#777"/>
<circle cx="64.50" cy="368.30" r="0.5" fill="#777"/>
<circle cx="81.60" cy="325.20" r="0.5" fill="#777"/>
<circle cx="85.80" cy="325.20" r="0.5" fill="#777"/>
<circle cx="83.70" cy="365.00" r="0.5" fill="#777"/>
<circle cx="83.70" cy="368.30" r="0.5" fill="#777"/>
<circle cx="103.70" cy="368.30" r="0.5" fill="#777"/>
<circle cx="121.90" cy="365.00" r="0.5" fill="#777"/>
<circle cx="153.60" cy="294.40" r="0.5" fill="#777"/>
<circle cx="156.00" cy="342.80" r="0.5" fill="#777"/>
<circle cx="151.50" cy="362.30" r="0.5" fill="#777"/>
<circle cx="156.00" cy="362.30" r="0.5" fill="#777"/>
<circle cx="172.40" cy="294.40" r="0.5" fill="#777"/>
<circle cx="174.80" cy="337.40" r="0.5" fill="#777"/>
<circle cx="170.80" cy="359.70" r="0.5" fill="#777"/>
<circle cx="174.80" cy="359.70" r="0.5" fill="#777"/>
<circle cx="192.50" cy="362.30" r="0.5" fill="#777"/>
<circle cx="211.90" cy="362.30" r="0.5" fill="#777"/>
<circle cx="64.70" cy="551.10" r="0.5" fill="#777"/>
<circle cx="62.50" cy="555.50" r="0.5" fill="#777"/>
<circle cx="66.00" cy="555.50" r="0.5" fill="#777"/>
<circle cx="64.70" cy="557.50" r="0.5" fill="#777"/>
<circle cx="66.50" cy="560.60" r="0.5" fill="#777"/>
<circle cx="63.00" cy="563.00" r="0.5" fill="#777"/>
<circle cx="66.00" cy="564.50" r="0.5" fill="#777"/>
<circle cx="62.80" cy="568.40" r="0.5" fill="#777"/>
<circle cx="66.50" cy="569.40" r="0.5" fill="#777"/>
<circle cx="64.70" cy="572.00" r="0.5" fill="#777"/>
<circle cx="62.50" cy="572.50" r="0.5" fill="#777"/>
<circle cx="64.80" cy="578.40" r="0.5" fill="#777"/>
<circle cx="83.20" cy="570.10" r="0.5" fill="#777"/>
<circle cx="86.00" cy="569.50" r="0.5" fill="#777"/>
<circle cx="84.80" cy="573.60" r="0.5" fill="#777"/>
<circle cx="83.40" cy="576.00" r="0.5" fill="#777"/>
<circle cx="86.00" cy="577.00" r="0.5" fill="#777"/>
<circle cx="84.50" cy="580.00" r="0.5" fill="#777"/>
<circle cx="82.50" cy="582.00" r="0.5" fill="#777"/>
<circle cx="85.50" cy="582.70" r="0.5" fill="#777"/>
<circle cx="104.40" cy="529.00" r="0.5" fill="#777"/>
<circle cx="102.20" cy="564.70" r="0.5" fill="#777"/>
<circle cx="124.60" cy="538.70" r="0.5" fill="#777"/>
<circle cx="124.60" cy="542.40" r="0.5" fill="#777"/>
<circle cx="124.60" cy="546.30" r="0.5" fill="#777"/>
<circle cx="157.60" cy="481.40" r="0.5" fill="#777"/>
<circle cx="157.60" cy="487.60" r="0.5" fill="#777"/>
<circle cx="159.80" cy="501.80" r="0.5" fill="#777"/>
<circle cx="160.30" cy="542.20" r="0.5" fill="#777"/>
<circle cx="157.50" cy="564.10" r="0.5" fill="#777"/>
<circle cx="157.50" cy="568.20" r="0.5" fill="#777"/>
<circle cx="157.50" cy="575.90" r="0.5" fill="#777"/>
<circle cx="177.60" cy="513.60" r="0.5" fill="#777"/>
<circle cx="177.60" cy="524.60" r="0.5" fill="#777"/>
<circle cx="175.00" cy="531.10" r="0.5" fill="#777"/>
<circle cx="175.00" cy="545.00" r="0.5" fill="#777"/>
<circle cx="177.70" cy="571.50" r="0.5" fill="#777"/>
<circle cx="177.70" cy="574.20" r="0.5" fill="#777"/>
<circle cx="177.70" cy="576.70" r="0.5" fill="#777"/>
<circle cx="198.50" cy="543.80" r="0.5" fill="#777"/>
<circle cx="196.40" cy="553.60" r="0.5" fill="#777"/>
<circle cx="198.50" cy="557.20" r="0.5" fill="#777"/>
<circle cx="198.50" cy="560.40" r="0.5" fill="#777"/>
<circle cx="217.60" cy="547.70" r="0.5" fill="#777"/>
<circle cx="217.60" cy="556.70" r="0.5" fill="#777"/>
<circle cx="124.60" cy="570.00" r="0.5" fill="#aaa"/>
<circle cx="124.60" cy="577.00" r="0.5" fill="#aaa"/>
<circle cx="122.00" cy="578.00" r="0.5" fill="#aaa"/>
<circle cx="127.00" cy="578.00" r="0.5" fill="#aaa"/>
<circle cx="122.00" cy="585.00" r="0.5" fill="#aaa"/>
<circle cx="127.00" cy="585.00" r="0.5" fill="#aaa"/>
<circle cx="217.60" cy="571.80" r="0.5" fill="#aaa"/>
<circle cx="215.00" cy="574.00" r="0.5" fill="#aaa"/>
<circle cx="220.00" cy="574.00" r="0.5" fill="#aaa"/>
<circle cx="217.60" cy="581.20" r="0.5" fill="#aaa"/>
<circle cx="217.60" cy="588.90" r="0.5" fill="#aaa"/>
</svg>
</body></html>
